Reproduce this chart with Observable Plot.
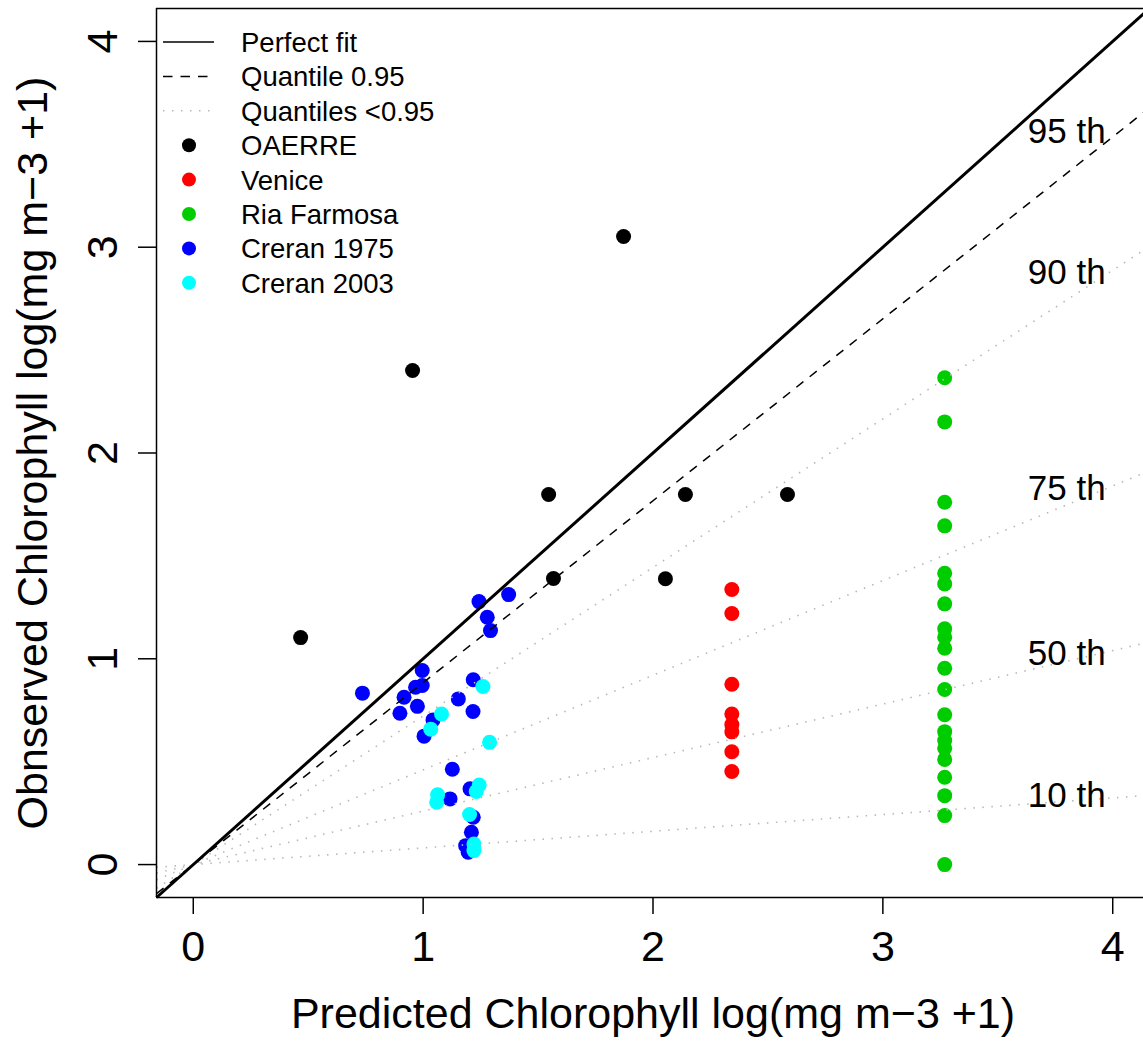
<!DOCTYPE html>
<html><head><meta charset="utf-8">
<script src="https://cdn.jsdelivr.net/npm/d3@7"></script>
<script src="https://cdn.jsdelivr.net/npm/@observablehq/plot@0.6"></script>
<style>
body{margin:0;background:#fff;}
#chart{position:relative;width:1143px;height:1042px;}
svg{font-family:"Liberation Sans",Arial,Helvetica,sans-serif;}
</style>
</head><body><div id="chart"></div>
<script>
// ---- data ----
const groups = ["OAERRE","Venice","Ria Farmosa","Creran 1975","Creran 2003"];
const groupColors = ["#000000","#ff0000","#00cd00","#0000ff","#00ffff"];

const oaerreX = [0.467, 0.954, 1.872, 1.546, 1.567, 2.141, 2.054, 2.585];
const oaerreY = [1.103, 2.401, 3.052, 1.798, 1.390, 1.798, 1.389, 1.798];

const veniceX = [2.343, 2.343, 2.343, 2.343, 2.343, 2.343, 2.343, 2.343];
const veniceY = [1.337, 1.220, 0.876, 0.732, 0.680, 0.645, 0.548, 0.452];

const riaX = [3.269,3.269,3.269,3.269,3.269,3.269,3.269,3.269,3.269,3.269,3.269,3.269,3.269,3.269,3.269,3.269,3.269,3.269,3.269,3.269,3.269];
const riaY = [2.366, 2.151, 1.761, 1.646, 1.416, 1.364, 1.267, 1.146, 1.105, 1.051, 0.954, 0.851, 0.728, 0.646, 0.603, 0.565, 0.511, 0.424, 0.335, 0.238, 0.0];

const creran75X = [0.736, 1.243, 1.372, 1.279, 1.293, 0.996, 0.996, 0.967, 0.917, 0.975, 0.899, 1.218, 1.153, 1.217, 1.043, 1.004, 1.127, 1.204, 1.117, 1.218, 1.210, 1.185, 1.196];
const creran75Y = [0.833, 1.278, 1.312, 1.202, 1.137, 0.943, 0.870, 0.862, 0.813, 0.769, 0.735, 0.898, 0.805, 0.744, 0.703, 0.624, 0.463, 0.368, 0.319, 0.230, 0.157, 0.092, 0.060];

const creran03X = [1.260, 1.080, 1.033, 1.289, 1.244, 1.231, 1.063, 1.059, 1.202, 1.221, 1.221];
const creran03Y = [0.865, 0.732, 0.658, 0.594, 0.387, 0.355, 0.339, 0.303, 0.243, 0.100, 0.068];

// quantile regression slopes (lines through origin)
const quantileNames  = ["95 th", "90 th", "75 th", "50 th", "10 th"];
const quantileSlopes = [0.884, 0.722, 0.460, 0.260, 0.081];
const quantileLabelX = [3.80, 3.80, 3.80, 3.80, 3.80];
const quantileLabelY = [3.56, 2.875, 1.826, 1.024, 0.332];

const perfectSlope = [1];

const xTicks = [0, 1, 2, 3, 4];
const yTicks = [0, 1, 2, 3, 4];
const xDomain = [-0.16, 4.16];
const yDomain = [-0.16, 4.16];

const legendLabels = ["Perfect fit","Quantile 0.95","Quantiles <0.95","OAERRE","Venice","Ria Farmosa","Creran 1975","Creran 2003"];

// ---- build tables ----
const seriesX = [oaerreX, veniceX, riaX, creran75X, creran03X];
const seriesY = [oaerreY, veniceY, riaY, creran75Y, creran03Y];
const points = [];
groups.forEach((g, gi) => seriesX[gi].forEach((x, i) => points.push({group: g, x, y: seriesY[gi][i]})));

const segOf = (s) => ({x1: xDomain[0], y1: xDomain[0]*s, x2: xDomain[1], y2: xDomain[1]*s});
const dottedLines = quantileSlopes.slice(1).map(segOf);
const dashedLines = quantileSlopes.slice(0,1).map(segOf);
const perfectLines = perfectSlope.map(segOf);
const labels = quantileNames.map((t,i) => ({t, x: quantileLabelX[i], y: quantileLabelY[i]}));

const FONT = "Liberation Sans, Arial, Helvetica, sans-serif";

const plot = Plot.plot({
  width: 1143, height: 1042,
  marginLeft: 156, marginRight: -6, marginTop: 8, marginBottom: 145,
  style: {fontFamily: FONT, background: "white", color: "black", overflow: "hidden"},
  x: {domain: xDomain},
  y: {domain: yDomain},
  color: {domain: groups, range: groupColors},
  marks: [
    Plot.dot(points, {x: "x", y: "y", fill: "group", r: 7.5, stroke: "none"}),
    Plot.link(dottedLines, {x1: "x1", y1: "y1", x2: "x2", y2: "y2", stroke: "#b8b8b8", strokeWidth: 1.6, strokeDasharray: "1.5,7.5"}),
    Plot.link(dashedLines, {x1: "x1", y1: "y1", x2: "x2", y2: "y2", stroke: "black", strokeWidth: 1.5, strokeDasharray: "9,8"}),
    Plot.link(perfectLines, {x1: "x1", y1: "y1", x2: "x2", y2: "y2", stroke: "black", strokeWidth: 3}),
    Plot.text(labels, {x: "x", y: "y", text: "t", fontSize: 35, textAnchor: "middle", lineAnchor: "middle", fill: "black"}),
    Plot.ruleX([xDomain[0]], {stroke: "black", strokeWidth: 1.5}),
    Plot.ruleY(yDomain, {stroke: "black", strokeWidth: 1.5}),
    Plot.axisX({ticks: xTicks, tickFormat: d => String(d), tickSize: 17, tickPadding: 16, fontSize: 43, strokeWidth: 1.5,
      label: "Predicted Chlorophyll log(mg m\u22123 +1)", labelAnchor: "center", labelArrow: "none", labelOffset: 130}),
    Plot.axisY({ticks: yTicks, tickFormat: d => String(d), tickSize: 18, tickPadding: 22, tickRotate: -90, fontSize: 43, strokeWidth: 1.5,
      label: "Obnserved Chlorophyll log(mg m\u22123 +1)", labelAnchor: "center", labelArrow: "none", labelOffset: 140})
  ]
});

const container = document.getElementById("chart");
container.appendChild(plot);

// ---- legend (inside the plot, top-left) ----
const svg = d3.select(plot);
const lg = svg.append("g").attr("font-family", FONT).attr("text-anchor", "start");
const rowY0 = 42, rowStep = 34.4;
legendLabels.forEach((lab, i) => {
  const cy = rowY0 + i * rowStep;
  if (i === 0) lg.append("line").attr("x1",163).attr("x2",214).attr("y1",cy).attr("y2",cy).attr("stroke","black").attr("stroke-width",1.5);
  else if (i === 1) lg.append("line").attr("x1",163).attr("x2",214).attr("y1",cy).attr("y2",cy).attr("stroke","black").attr("stroke-width",1.5).attr("stroke-dasharray","9.5,8");
  else if (i === 2) lg.append("line").attr("x1",163).attr("x2",214).attr("y1",cy).attr("y2",cy).attr("stroke","#b8b8b8").attr("stroke-width",1.6).attr("stroke-dasharray","1.5,7.5");
  else lg.append("circle").attr("cx",189).attr("cy",cy).attr("r",7).attr("fill",groupColors[i-3]);
  lg.append("text").attr("x",241).attr("y",cy).attr("dy","0.36em").attr("font-size",27.5).attr("fill","black").attr("text-anchor","start").text(lab);
});
</script>
</body></html>
